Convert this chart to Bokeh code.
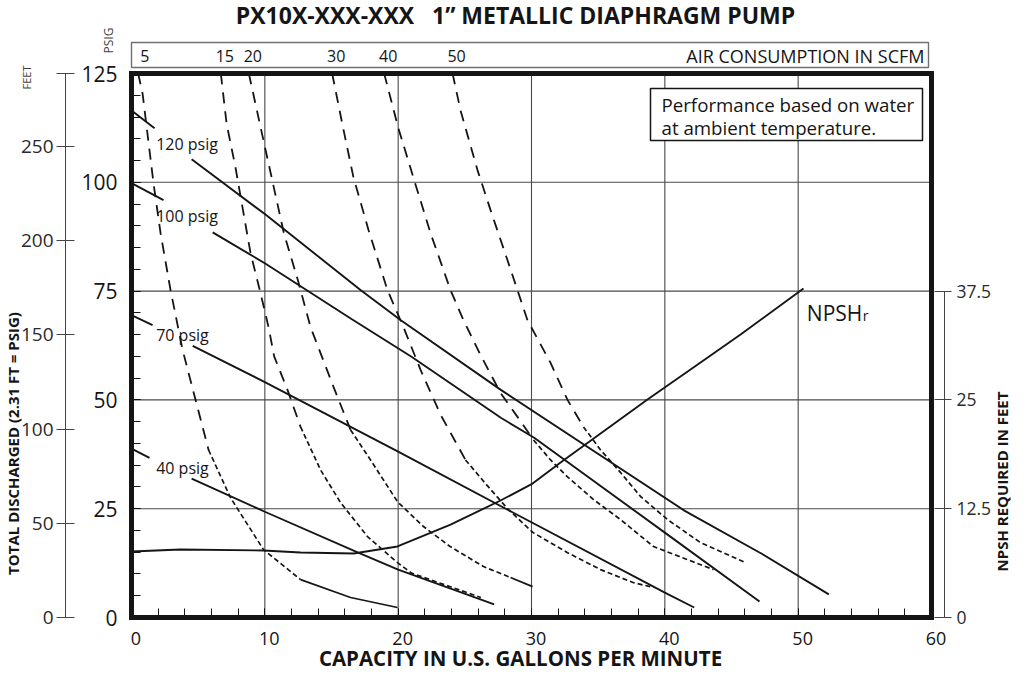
import numpy as np
from bokeh.plotting import figure
from bokeh.models import Range1d, LinearAxis, FixedTicker, SingleIntervalTicker, Label, ColumnDataSource
from bokeh.embed import file_html
from bokeh.resources import INLINE
from bokeh.core.properties import value

FONT = "Open Sans"
INK = "#151515"
GREY = "#444444"

# ---------------- data ----------------
gpm_max = 60
psig_max = 125
ft_per_psig = 2.31
npsh_per_psig = 0.5          # right scale: 37.5 ft NPSH sits at 75 psig

# head curves (discharge psig vs capacity gpm): short lead piece + main piece (gap holds the label)
head_labels = ["120 psig", "100 psig", "70 psig", "40 psig"]
head_lead_gpm = [[0, 1.73], [0, 2.4], [0, 1.58], [0, 1.35]]
head_lead_psig = [[116.5, 112.4], [99.8, 95.9], [69.5, 67.2], [38.8, 36.7]]
head_gpm = [
    [4.51, 10.0, 17.2, 20.2, 27.7, 41.5, 47.3, 52.3],
    [6.09, 10.0, 16.5, 21.0, 27.7, 30.2, 40.0, 47.1],
    [4.59, 10.0, 20.0, 28.5, 40.0, 42.2],
    [4.51, 10.0, 17.0, 20.0, 27.2],
]
head_psig = [
    [105.3, 92.7, 75.2, 68.3, 52.3, 24.5, 14.6, 5.3],
    [88.5, 81.4, 68.6, 59.9, 45.9, 41.3, 19.5, 3.7],
    [62.4, 54.1, 38.1, 24.3, 5.7, 2.3],
    [31.9, 24.3, 14.9, 11.0, 3.0],
]

# air consumption curves (SCFM)
scfm = [5, 15, 20, 30, 40, 50]
air_gpm = [
    [0.5, 0.83, 1.65, 2.18, 2.93, 3.83, 5.78, 7.43, 9.9, 12.68, 16.43, 19.95],
    [6.7, 7.13, 7.8, 8.4, 8.93, 9.68, 10.28, 10.7, 11.7, 12.68, 14.18, 15.68, 17.7, 19.95, 21.0, 26.2],
    [8.8, 9.9, 11.43, 12.48, 13.43, 15.15, 16.43, 17.93, 19.95, 21.9, 23.9, 26.4, 28.43, 30.08],
    [15.05, 15.83, 16.65, 17.78, 19.2, 20.4, 21.68, 23.18, 25.05, 26.6, 28.2, 30.08, 32.7, 35.18, 37.65, 39.15],
    [18.95, 20.0, 21.2, 22.43, 23.93, 24.9, 26.18, 27.68, 28.95, 30.15, 31.43, 32.7, 34.65, 36.68, 39.15, 41.7, 43.65],
    [24.08, 24.68, 25.95, 26.93, 28.2, 29.7, 31.43, 32.7, 33.9, 35.18, 36.68, 38.18, 40.2, 42.68, 46.05],
]
air_psig = [
    [125, 120.4, 99.8, 88.3, 75.2, 61.5, 38.5, 27.5, 15.6, 8.7, 4.6, 2.3],
    [125, 113.5, 103.4, 92.9, 83.7, 74.5, 66.7, 60.0, 52.3, 43.8, 33.9, 26.4, 18.6, 12.6, 10.2, 4.6],
    [125, 109.6, 88.3, 77.5, 66.7, 53.0, 43.1, 36.2, 26.6, 20.9, 16.3, 11.7, 9.2, 7.1],
    [125, 113.1, 101.1, 89.0, 75.2, 66.7, 56.9, 46.6, 36.2, 30.6, 25.0, 19.6, 14.9, 11.0, 8.0, 6.9],
    [125, 112.6, 100.5, 88.3, 75.2, 68.3, 60.3, 51.6, 46.1, 40.8, 36.2, 32.3, 27.1, 22.5, 16.3, 13.3, 11.0],
    [125, 116.5, 102.8, 93.6, 82.1, 68.3, 58.5, 50.0, 43.8, 38.5, 33.3, 27.8, 22.5, 17.2, 12.6],
]

# NPSH required (feet)
npsh_gpm = [0, 3.68, 9.9, 12.68, 16.65, 19.95, 23.93, 27.68, 30.08, 32.18, 35.18, 38.7, 42.68, 45.68, 50.4]
npsh_ft = [7.58, 7.81, 7.70, 7.47, 7.35, 8.16, 10.68, 13.44, 15.39, 17.81, 21.14, 25.05, 29.30, 32.51, 37.8]

x_ticks_major = 10
y_ticks_major = 25
grid_x = [10, 20, 30, 40, 50]
grid_y = [25, 50, 75, 100]
feet_ticks = [0, 50, 100, 150, 200, 250]
npsh_ticks = [0, 12.5, 25, 37.5]

# ---------------- styles / layout ----------------
long_dash_above = 45                    # psig: long dashes above, short dashes below
solid_tail_from = {5: 12.6, 20: 28.4}   # gpm from which the curve end is drawn solid

W, H = 1011, 673
X0, Y0 = 131, 617                       # frame origin on the canvas (px)
PX_X = 800 / gpm_max
PX_Y = 544 / psig_max


def gx(px):
    return (px - X0) / PX_X


def gy(py):
    return (Y0 - py) / PX_Y


p = figure(width=W, height=H, x_range=Range1d(gx(0), gx(W)), y_range=Range1d(gy(H), gy(0)),
           x_axis_type=None, y_axis_type=None, toolbar_location=None, output_backend="svg",
           min_border=0, min_border_left=0, min_border_right=0, min_border_top=0, min_border_bottom=0,
           outline_line_color=None, background_fill_color="white", border_fill_color="white")
p.extra_y_ranges = {"feet": Range1d(gy(H) * ft_per_psig, gy(0) * ft_per_psig),
                    "npsh": Range1d(gy(H) * npsh_per_psig, gy(0) * npsh_per_psig)}

# grid
p.segment(x0=grid_x, y0=[0] * len(grid_x), x1=grid_x, y1=[psig_max] * len(grid_x),
          line_color="#4a4a4a", line_width=1.1)
p.segment(x0=[0] * len(grid_y), y0=grid_y, x1=[gpm_max] * len(grid_y), y1=grid_y,
          line_color="#4a4a4a", line_width=1.1)

# air consumption curves
for s, xs, ys in zip(scfm, air_gpm, air_psig):
    n = len(xs)
    i1 = next((i for i, v in enumerate(ys) if v < long_dash_above), n - 1)
    i2 = next((i for i, v in enumerate(xs) if v >= solid_tail_from.get(s, 1e9)), n - 1)
    i2 = max(i2, i1)
    p.line(xs[:i1 + 1], ys[:i1 + 1], line_color=INK, line_width=1.8, line_dash="11 8")
    if i2 > i1:
        p.line(xs[i1:i2 + 1], ys[i1:i2 + 1], line_color=INK, line_width=1.7, line_dash="5 3")
    if i2 < n - 1:
        p.line(xs[i2:], ys[i2:], line_color=INK, line_width=1.7)

# head curves
for lx, ly, hx, hy in zip(head_lead_gpm, head_lead_psig, head_gpm, head_psig):
    p.line(lx, ly, line_color=INK, line_width=1.9)
    p.line(hx, hy, line_color=INK, line_width=1.9)

lab_src = ColumnDataSource(dict(
    x=[1.85] * len(head_labels),
    y=[(ly[-1] + hy[0]) / 2 for ly, hy in zip(head_lead_psig, head_psig)],
    text=head_labels))
p.text(x="x", y="y", text="text", source=lab_src, text_font=value(FONT), text_font_size="16px",
       text_color=INK, text_align="left", text_baseline="middle")

# NPSH curve
p.line(npsh_gpm, npsh_ft, y_range_name="npsh", line_color=INK, line_width=1.9)
p.add_layout(Label(x=npsh_gpm[-1] + 0.25, y=npsh_ft[-1] - 2.8, y_range_name="npsh", text="NPSH",
                   text_font=FONT, text_font_size="21px", text_color=INK,
                   text_align="left", text_baseline="alphabetic"))
p.add_layout(Label(x=npsh_gpm[-1] + 0.25, y=npsh_ft[-1] - 2.8, y_range_name="npsh", text="r",
                   x_offset=56, y_offset=-3,
                   text_font=FONT, text_font_size="14px", text_color=INK,
                   text_align="left", text_baseline="alphabetic"))

# frame
p.quad(left=[0], right=[gpm_max], bottom=[0], top=[psig_max], fill_color=None,
       line_color=INK, line_width=5, line_join="miter")

# note box
p.quad(left=[gx(650)], right=[gx(922)], bottom=[gy(140)], top=[gy(88)], fill_color="white",
       line_color=INK, line_width=1.5)
for txt, py in (("Performance based on water", 104), ("at ambient temperature.", 127)):
    p.add_layout(Label(x=gx(661), y=gy(py), text=txt, text_font=FONT, text_font_size="18.7px",
                       text_color=INK, text_align="left", text_baseline="middle"))

# air consumption strip
box_right = gx(928)
p.quad(left=[0], right=[box_right], bottom=[gy(67)], top=[gy(42)], fill_color=None,
       line_color="#707070", line_width=1.4)
scfm_x = [max(a[0] + 0.3, 1.0) for a in air_gpm]
p.text(x=scfm_x, y=[gy(55)] * len(scfm), text=[str(s) for s in scfm],
       text_font=value(FONT), text_font_size="16px", text_color=INK,
       text_align="center", text_baseline="middle")
p.add_layout(Label(x=box_right, y=gy(55), x_offset=-4, text="AIR CONSUMPTION IN SCFM",
                   text_font=FONT, text_font_size="18px", text_color=INK,
                   text_align="right", text_baseline="middle"))

# axes
ya = LinearAxis(fixed_location=0, bounds=(0, psig_max),
                ticker=SingleIntervalTicker(interval=y_ticks_major, num_minor_ticks=5))
xa = LinearAxis(fixed_location=0, bounds=(0, gpm_max),
                ticker=SingleIntervalTicker(interval=x_ticks_major, num_minor_ticks=5),
                major_label_overrides={t: "\u2002" + str(t) for t in range(0, gpm_max + 1, x_ticks_major)})
for ax in (xa, ya):
    ax.axis_line_color = None
    ax.major_tick_in = 9
    ax.major_tick_out = 0
    ax.minor_tick_in = 9
    ax.minor_tick_out = 0
    ax.major_tick_line_color = INK
    ax.minor_tick_line_color = INK
    ax.major_tick_line_width = 1
    ax.minor_tick_line_width = 1
    ax.major_label_text_font = FONT
    ax.major_label_text_color = INK
xa.major_label_standoff = 8
xa.major_label_text_font_size = "18px"
ya.major_label_standoff = 14
ya.major_label_text_font_size = "21px"
p.add_layout(ya, "left")
p.add_layout(xa, "below")

feet_top = psig_max * ft_per_psig
fa = LinearAxis(y_range_name="feet", fixed_location=gx(65), bounds=(0, feet_top),
                ticker=FixedTicker(ticks=feet_ticks + [feet_top]), major_label_overrides={feet_top: ""},
                axis_line_color=GREY, axis_line_width=1,
                major_tick_in=9, major_tick_out=9, major_tick_line_color=GREY,
                minor_tick_in=0, minor_tick_out=0,
                major_label_standoff=3, major_label_text_font=FONT,
                major_label_text_font_size="19px", major_label_text_color="#2a2a2a")
p.add_layout(fa, "left")

na = LinearAxis(y_range_name="npsh", fixed_location=gx(944), bounds=(0, npsh_ticks[-1]),
                ticker=FixedTicker(ticks=npsh_ticks),
                major_label_overrides={t: "%g" % t for t in npsh_ticks},
                axis_line_color=GREY, axis_line_width=1,
                major_tick_in=10, major_tick_out=7, major_tick_line_color=GREY,
                minor_tick_in=0, minor_tick_out=0,
                major_label_standoff=5, major_label_text_font=FONT,
                major_label_text_font_size="17.5px", major_label_text_color="#2a2a2a")
p.add_layout(na, "right")

# titles
p.add_layout(Label(x=gx(515), y=gy(14), text="PX10X-XXX-XXX\u00a0\u00a0 1\u201d METALLIC DIAPHRAGM PUMP",
                   text_font=FONT, text_font_size="23px", text_font_style="bold", text_color=INK,
                   text_align="center", text_baseline="middle"))
p.add_layout(Label(x=gx(12), y=gy(443), text="TOTAL DISCHARGED (2.31 FT = PSIG)", angle=np.pi / 2,
                   text_font=FONT, text_font_size="15px", text_font_style="bold", text_color=INK,
                   text_align="center", text_baseline="middle"))
p.add_layout(Label(x=gx(26), y=gy(77), text="FEET", angle=np.pi / 2,
                   text_font=FONT, text_font_size="11px", text_color=GREY,
                   text_align="center", text_baseline="middle"))
p.add_layout(Label(x=gx(108), y=gy(40), text="PSIG", angle=np.pi / 2,
                   text_font=FONT, text_font_size="12px", text_color=GREY,
                   text_align="center", text_baseline="middle"))
p.add_layout(Label(x=gx(1001), y=gy(481), text="NPSH REQUIRED IN FEET", angle=np.pi / 2,
                   text_font=FONT, text_font_size="15px", text_font_style="bold", text_color=INK,
                   text_align="center", text_baseline="middle"))
p.add_layout(Label(x=gx(520), y=gy(657), text="CAPACITY IN U.S. GALLONS PER MINUTE",
                   text_font=FONT, text_font_size="20.5px", text_font_style="bold", text_color=INK,
                   text_align="center", text_baseline="middle"))

open("out.html", "w").write(file_html(p, INLINE))
